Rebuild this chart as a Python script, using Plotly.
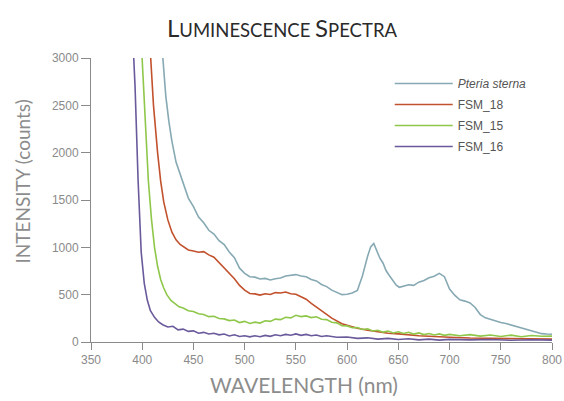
import plotly.graph_objects as go

# ---------------- data ----------------
pteria_wl = [418, 420, 423, 426, 429, 433, 437, 440, 445, 450, 455, 460, 465, 470, 475, 480,
             485, 490, 495, 500, 505, 510, 515, 520, 525, 530, 535, 540, 545, 550, 555, 560,
             565, 570, 575, 580, 585, 590, 595, 600, 605, 610, 615, 620, 623, 626, 629, 632,
             635, 638, 641, 645, 648, 651, 655, 660, 665, 670, 675, 680, 685, 690, 695, 700,
             705, 710, 715, 720, 725, 730, 735, 740, 745, 750, 755, 760, 765, 770, 775, 780,
             785, 790, 795, 800]
pteria_val = [3300, 3000, 2600, 2330, 2120, 1900, 1770, 1660, 1520, 1430, 1320, 1260, 1180, 1140, 1070, 1030,
              950, 890, 780, 725, 690, 685, 665, 672, 655, 668, 676, 698, 702, 712, 698, 690,
              660, 645, 608, 585, 548, 528, 500, 505, 518, 545, 700, 905, 1005, 1040, 965, 885,
              835, 755, 705, 640, 600, 578, 592, 605, 598, 632, 650, 678, 695, 725, 690, 560,
              495, 445, 432, 412, 365, 290, 255, 236, 218, 205, 196, 180, 163, 150, 134, 116,
              98, 88, 84, 82]

fsm18_wl = [405, 408, 411, 415, 418, 421, 425, 429, 433, 437, 441, 445, 450, 455, 460, 465,
            470, 475, 480, 485, 490, 495, 500, 505, 510, 515, 520, 525, 530, 535, 540, 545,
            550, 555, 560, 565, 570, 575, 580, 585, 590, 595, 600, 605, 610, 620, 630, 640,
            650, 660, 670, 680, 690, 700, 720, 740, 760, 780, 800]
fsm18_val = [3600, 3000, 2500, 2000, 1700, 1480, 1290, 1160, 1080, 1030, 1000, 972, 962, 948, 955, 920,
             895, 838, 790, 725, 668, 598, 548, 512, 508, 495, 510, 502, 522, 518, 528, 510,
             505, 478, 452, 408, 372, 328, 292, 252, 222, 192, 178, 158, 146, 124, 110, 92,
             86, 74, 66, 60, 52, 50, 42, 38, 34, 32, 30]

fsm15_wl = [398, 400, 403, 406, 409, 412, 415, 418, 421, 424, 428, 432, 436, 440, 445, 450,
            455, 460, 465, 470, 475, 480, 485, 490, 495, 500, 505, 510, 515, 520, 525, 530,
            535, 540, 545, 550, 555, 560, 565, 570, 575, 580, 585, 590, 595, 600, 605, 610,
            615, 620, 625, 630, 635, 640, 645, 650, 655, 660, 665, 670, 675, 680, 685, 690,
            695, 700, 710, 720, 730, 740, 750, 760, 770, 780, 790, 800]
fsm15_val = [3400, 3000, 2300, 1700, 1300, 1000, 800, 660, 570, 500, 440, 405, 372, 358, 330, 322,
             298, 290, 268, 272, 248, 244, 226, 232, 205, 218, 196, 210, 200, 224, 218, 242,
             236, 262, 255, 282, 268, 276, 258, 266, 240, 236, 208, 202, 172, 170, 150, 152,
             132, 140, 116, 124, 104, 116, 96, 108, 90, 102, 84, 96, 78, 90, 74, 86,
             70, 80, 66, 78, 62, 74, 58, 72, 56, 68, 60, 62]

fsm16_wl = [390, 393, 396, 399, 402, 405, 408, 412, 416, 420, 425, 430, 435, 440, 445, 450,
            455, 460, 465, 470, 475, 480, 485, 490, 495, 500, 505, 510, 515, 520, 525, 530,
            535, 540, 545, 550, 555, 560, 565, 570, 575, 580, 590, 600, 610, 620, 630, 640,
            650, 660, 670, 680, 690, 700, 720, 740, 760, 780, 800]
fsm16_val = [3400, 2700, 1700, 950, 620, 440, 330, 260, 212, 182, 158, 166, 128, 136, 112, 118,
             92, 102, 84, 92, 76, 84, 64, 76, 58, 66, 54, 66, 56, 70, 60, 76,
             66, 80, 72, 86, 70, 80, 66, 74, 58, 66, 50, 52, 38, 44, 30, 38,
             26, 34, 22, 30, 20, 28, 22, 26, 18, 24, 20]

series_names = ["<i>Pteria sterna</i>", "FSM_18", "FSM_15", "FSM_16"]
series_colors = ["#86a9b3", "#c2512d", "#8fc74a", "#6a5a9c"]

x_ticks = [350, 400, 450, 500, 550, 600, 650, 700, 750, 800]
y_ticks = [0, 500, 1000, 1500, 2000, 2500, 3000]

# ---------------- figure ----------------
fig = go.Figure()
for i, (wl, val, name, col) in enumerate(zip(
        [pteria_wl, fsm18_wl, fsm15_wl, fsm16_wl],
        [pteria_val, fsm18_val, fsm15_val, fsm16_val],
        series_names, series_colors)):
    fig.add_trace(go.Scatter(x=wl, y=val, mode="lines", name=name, legendgroup=f"g{i}",
                             line=dict(color=col, width=1.6)))

axis_col = "#8a8a8a"
tick_font = dict(family="Liberation Sans, Arial, sans-serif", size=12, color="#8a8a8a")

fig.update_layout(
    width=564, height=401, autosize=False,
    margin=dict(l=91, r=12, t=58, b=59, autoexpand=False),
    paper_bgcolor="white", plot_bgcolor="white",
    showlegend=True,
    legend=dict(x=0.691, y=0.828, xref="container", yref="container",
                xanchor="left", yanchor="top",
                font=dict(family="Liberation Sans, Arial, sans-serif", size=12, color="#555555"),
                bgcolor="rgba(0,0,0,0)", itemwidth=58, tracegroupgap=2),
    title=dict(
        text=("<span style='font-size:24px'>L</span>UMINESCENCE "
              "<span style='font-size:24px'>S</span>PECTRA"),
        x=0.5, xref="container", xanchor="center",
        y=0.925, yref="container", yanchor="middle",
        font=dict(family="Lato, Open Sans, sans-serif", size=18.5, color="#2a2a2a"),
    ),
    xaxis=dict(range=[350, 800], tickvals=x_ticks, ticktext=[str(v) for v in x_ticks],
               showgrid=False, zeroline=False, showline=True, linecolor=axis_col, linewidth=1,
               ticks="outside", ticklen=7, tickcolor=axis_col, tickfont=tick_font,
               automargin=False),
    yaxis=dict(range=[0, 3000], tickvals=y_ticks, ticktext=[str(v) for v in y_ticks],
               showgrid=False, zeroline=False, showline=True, linecolor=axis_col, linewidth=1,
               ticks="outside", ticklen=9, tickcolor=axis_col, tickfont=tick_font,
               automargin=False),
    annotations=[
        dict(text="INTENSITY (counts)", xref="paper", yref="paper",
             x=-0.1475, y=0.565, xanchor="center", yanchor="middle", textangle=-90,
             showarrow=False,
             font=dict(family="Lato, Open Sans, sans-serif", size=19, color="#8c8c8c")),
        dict(text="WAVELENGTH (nm)", xref="paper", yref="paper",
             x=0.463, y=-0.15, xanchor="center", yanchor="middle",
             showarrow=False,
             font=dict(family="Lato, Open Sans, sans-serif", size=21, color="#8c8c8c")),
    ],
)

fig.write_html("out.html",
               config={"responsive": False, "displayModeBar": False},
               post_script="document.body.style.margin='0px';")
